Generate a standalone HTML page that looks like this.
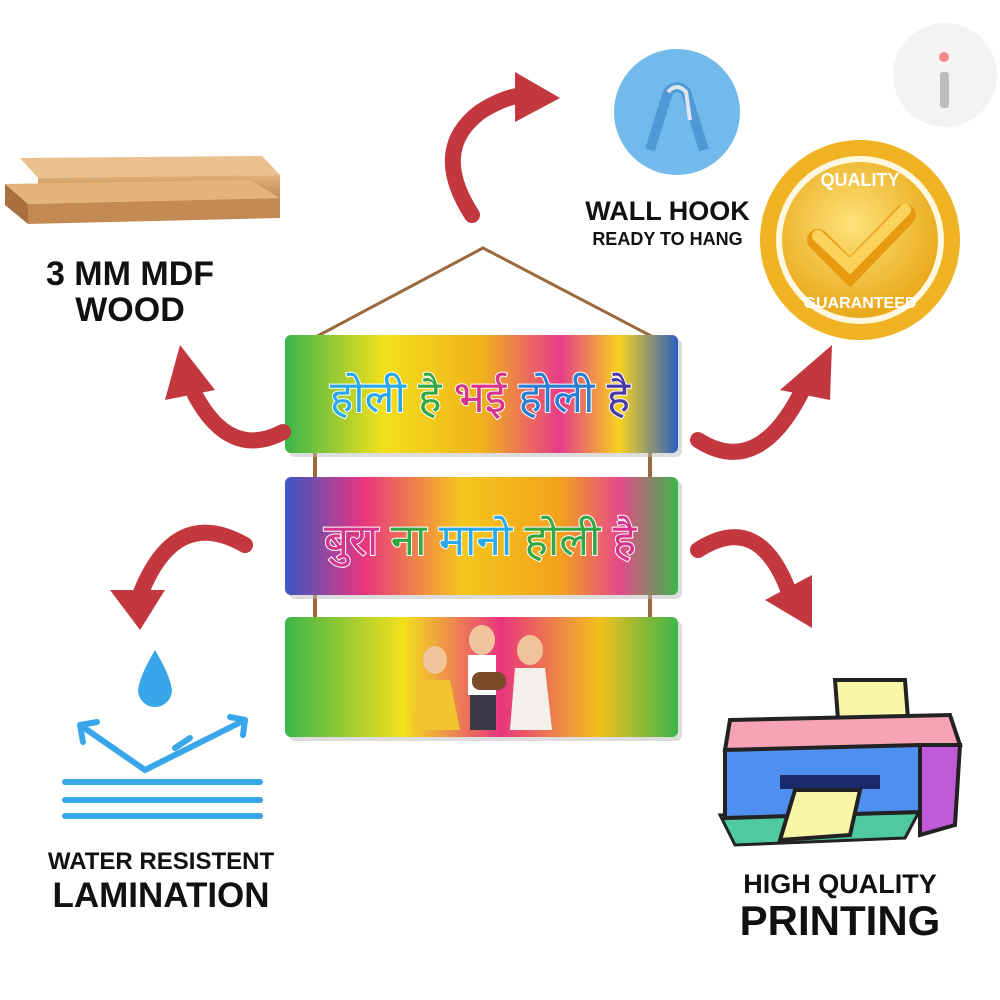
<!DOCTYPE html>
<html><head><meta charset="utf-8"><style>
html,body{margin:0;padding:0;background:#fff;}
body{width:1000px;height:1000px;overflow:hidden;position:relative;font-family:"Liberation Sans",sans-serif;}
.t{position:absolute;font-weight:bold;color:#111;text-align:center;line-height:1;}
</style></head><body>
<svg width="1000" height="1000" viewBox="0 0 1000 1000" style="position:absolute;left:0;top:0">
<defs>
<linearGradient id="g1" x1="0" x2="1" y1="0" y2="0">
<stop offset="0" stop-color="#3bb54a"/><stop offset=".25" stop-color="#f2e01c"/><stop offset=".5" stop-color="#f0b21c"/><stop offset=".7" stop-color="#e63b8a"/><stop offset=".85" stop-color="#f6d21e"/><stop offset="1" stop-color="#2e5fbf"/></linearGradient>
<linearGradient id="g2" x1="0" x2="1" y1="0" y2="0">
<stop offset="0" stop-color="#3a58c4"/><stop offset=".2" stop-color="#e8357e"/><stop offset=".45" stop-color="#f5c71e"/><stop offset=".7" stop-color="#f2a21c"/><stop offset=".85" stop-color="#e64a8a"/><stop offset="1" stop-color="#3bb54a"/></linearGradient>
<linearGradient id="g3" x1="0" x2="1" y1="0" y2="0">
<stop offset="0" stop-color="#3bb54a"/><stop offset=".3" stop-color="#f2e01c"/><stop offset=".55" stop-color="#e8357e"/><stop offset=".8" stop-color="#f2c01c"/><stop offset="1" stop-color="#3bb54a"/></linearGradient>
<radialGradient id="gold" cx=".45" cy=".4" r=".6"><stop offset="0" stop-color="#fde27a"/><stop offset="1" stop-color="#e9a91a"/></radialGradient>
<linearGradient id="wood" x1="0" x2="0" y1="0" y2="1"><stop offset="0" stop-color="#e2b07a"/><stop offset="1" stop-color="#c08650"/></linearGradient>
</defs>

<circle cx="945" cy="75" r="52" fill="#f4f2f2"/>
<rect x="940" y="72" width="9" height="36" rx="3" fill="#bdbdbd"/>
<circle cx="944" cy="57" r="5" fill="#f08a8a"/>

<!-- wood planks -->
<polygon points="20,158 262,156 280,175 38,178" fill="#e9c08e"/>
<polygon points="38,178 280,175 280,198 38,202" fill="url(#wood)"/>
<polygon points="5,184 250,180 280,198 28,204" fill="#e4b47c"/>
<polygon points="28,204 280,198 280,218 28,224" fill="#c48a54"/>
<polygon points="5,184 28,204 28,224 5,205" fill="#a8703e"/>

<circle cx="677" cy="112" r="63" fill="#72b9ec"/>
<path d="M650 150 L668 92 Q677 82 686 92 L704 150" stroke="#4f9ad4" stroke-width="10" fill="none"/>
<path d="M668 92 Q677 82 686 92 L690 120" stroke="#dfe6ee" stroke-width="4" fill="none"/>

<circle cx="860" cy="240" r="100" fill="#f0b323"/>
<circle cx="860" cy="240" r="84" fill="#fff8e0"/>
<circle cx="860" cy="240" r="78" fill="url(#gold)"/>
<path d="M818 240 L850 272 L905 215" stroke="#e89a10" stroke-width="22" fill="none" stroke-linecap="round"/>
<path d="M818 236 L850 266 L905 210" stroke="#fbd35a" stroke-width="12" fill="none" stroke-linecap="round"/>
<text x="860" y="186" text-anchor="middle" font-family="Liberation Sans" font-weight="bold" font-size="18" fill="#fff">QUALITY</text>
<text x="860" y="308" text-anchor="middle" font-family="Liberation Sans" font-weight="bold" font-size="16" fill="#fff">GUARANTEED</text>

<path d="M310 340 L483 248 L655 338" stroke="#9b6a3c" stroke-width="3" fill="none"/>
<path d="M315 450 L315 480 M650 450 L650 480 M315 592 L315 620 M650 592 L650 620" stroke="#9b6a3c" stroke-width="4"/>

<rect x="289" y="339" width="393" height="118" rx="6" fill="#bbb" opacity=".5"/>
<rect x="285" y="335" width="393" height="118" rx="6" fill="url(#g1)"/>
<rect x="289" y="481" width="393" height="118" rx="6" fill="#bbb" opacity=".5"/>
<rect x="285" y="477" width="393" height="118" rx="6" fill="url(#g2)"/>
<rect x="289" y="621" width="393" height="120" rx="6" fill="#bbb" opacity=".5"/>
<rect x="285" y="617" width="393" height="120" rx="6" fill="url(#g3)"/>
<text x="480" y="412" text-anchor="middle" font-size="44" stroke="#fff" stroke-width="2" paint-order="stroke" font-family="Liberation Sans,sans-serif"><tspan fill="#29a9e6">होली</tspan> <tspan fill="#35a845">है</tspan> <tspan fill="#d6338a">भई</tspan> <tspan fill="#2b7fd0">होली</tspan> <tspan fill="#4a3aa8">है</tspan></text>
<text x="480" y="555" text-anchor="middle" font-size="44" stroke="#fff" stroke-width="2" paint-order="stroke" font-family="Liberation Sans,sans-serif"><tspan fill="#d6338a">बुरा</tspan> <tspan fill="#35a845">ना</tspan> <tspan fill="#29a9e6">मानो</tspan> <tspan fill="#35a845">होली</tspan> <tspan fill="#d6338a">है</tspan></text>
<ellipse cx="435" cy="660" rx="12" ry="14" fill="#f1c39b"/>
<path d="M420 680 L450 680 L460 730 L412 730Z" fill="#f2c530"/>
<ellipse cx="482" cy="640" rx="13" ry="15" fill="#f1c39b"/>
<rect x="468" y="655" width="28" height="40" fill="#fff"/>
<rect x="470" y="695" width="26" height="35" fill="#3a3a48"/>
<rect x="472" y="672" width="34" height="18" rx="8" fill="#7a4a2a"/>
<ellipse cx="530" cy="650" rx="13" ry="15" fill="#f1c39b"/>
<path d="M515 668 L545 668 L552 730 L510 730Z" fill="#f3f0ec"/>

<g fill="none" stroke="#c2383e" stroke-linecap="round">
<path d="M472 215 Q430 150 480 112 Q505 96 525 95" stroke-width="16"/>
<path d="M283 432 Q230 460 195 395" stroke-width="16"/>
<path d="M698 440 Q760 480 805 385" stroke-width="16"/>
<path d="M245 545 Q175 505 140 595" stroke-width="16"/>
<path d="M698 550 Q760 510 790 595" stroke-width="16"/>
</g>
<g fill="#c2383e">
<polygon points="515,72 560,98 515,122"/>
<polygon points="165,400 180,345 215,390"/>
<polygon points="780,390 832,345 830,400"/>
<polygon points="110,590 140,630 165,590"/>
<polygon points="765,600 812,628 812,575"/>
</g>

<g fill="none" stroke="#39a6ea" stroke-width="6" stroke-linecap="round">
<path d="M80 725 L145 770 L245 720"/>
<path d="M80 725 L83 742 M80 725 L97 722 M245 720 L230 717 M245 720 L243 735"/>
<path d="M175 748 L190 738"/>
<path d="M65 782 H260 M65 800 H260 M65 816 H260"/>
</g>
<path d="M155 650 Q140 675 138 690 A17 17 0 0 0 172 690 Q170 675 155 650Z" fill="#39a6ea"/>

<polygon points="720,815 920,810 905,838 735,845" fill="#4fc9a0" stroke="#222" stroke-width="3"/>
<polygon points="835,680 905,680 910,745 840,745" fill="#f9f6a8" stroke="#222" stroke-width="4"/>
<polygon points="730,720 950,715 960,745 725,750" fill="#f5a3b5" stroke="#222" stroke-width="4"/>
<polygon points="725,750 920,745 920,812 725,818" fill="#4f8ff0" stroke="#222" stroke-width="4"/>
<polygon points="920,745 960,745 955,825 920,835" fill="#c05ad8" stroke="#222" stroke-width="4"/>
<rect x="780" y="775" width="100" height="14" fill="#1a2a6a"/>
<polygon points="795,790 860,790 850,835 780,840" fill="#f9f6a8" stroke="#222" stroke-width="4"/>
</svg>

<div class="t" style="left:20px;top:256px;width:220px;font-size:34px;line-height:36px">3 MM MDF<br>WOOD</div>
<div class="t" style="left:570px;top:198px;width:195px;font-size:27px">WALL HOOK</div>
<div class="t" style="left:570px;top:230px;width:195px;font-size:18px">READY TO HANG</div>
<div class="t" style="left:30px;top:850px;width:262px;font-size:24px">WATER RESISTENT</div>
<div class="t" style="left:30px;top:878px;width:262px;font-size:35px">LAMINATION</div>
<div class="t" style="left:725px;top:871px;width:230px;font-size:27px">HIGH QUALITY</div>
<div class="t" style="left:725px;top:900px;width:230px;font-size:42px">PRINTING</div>
</body></html>
